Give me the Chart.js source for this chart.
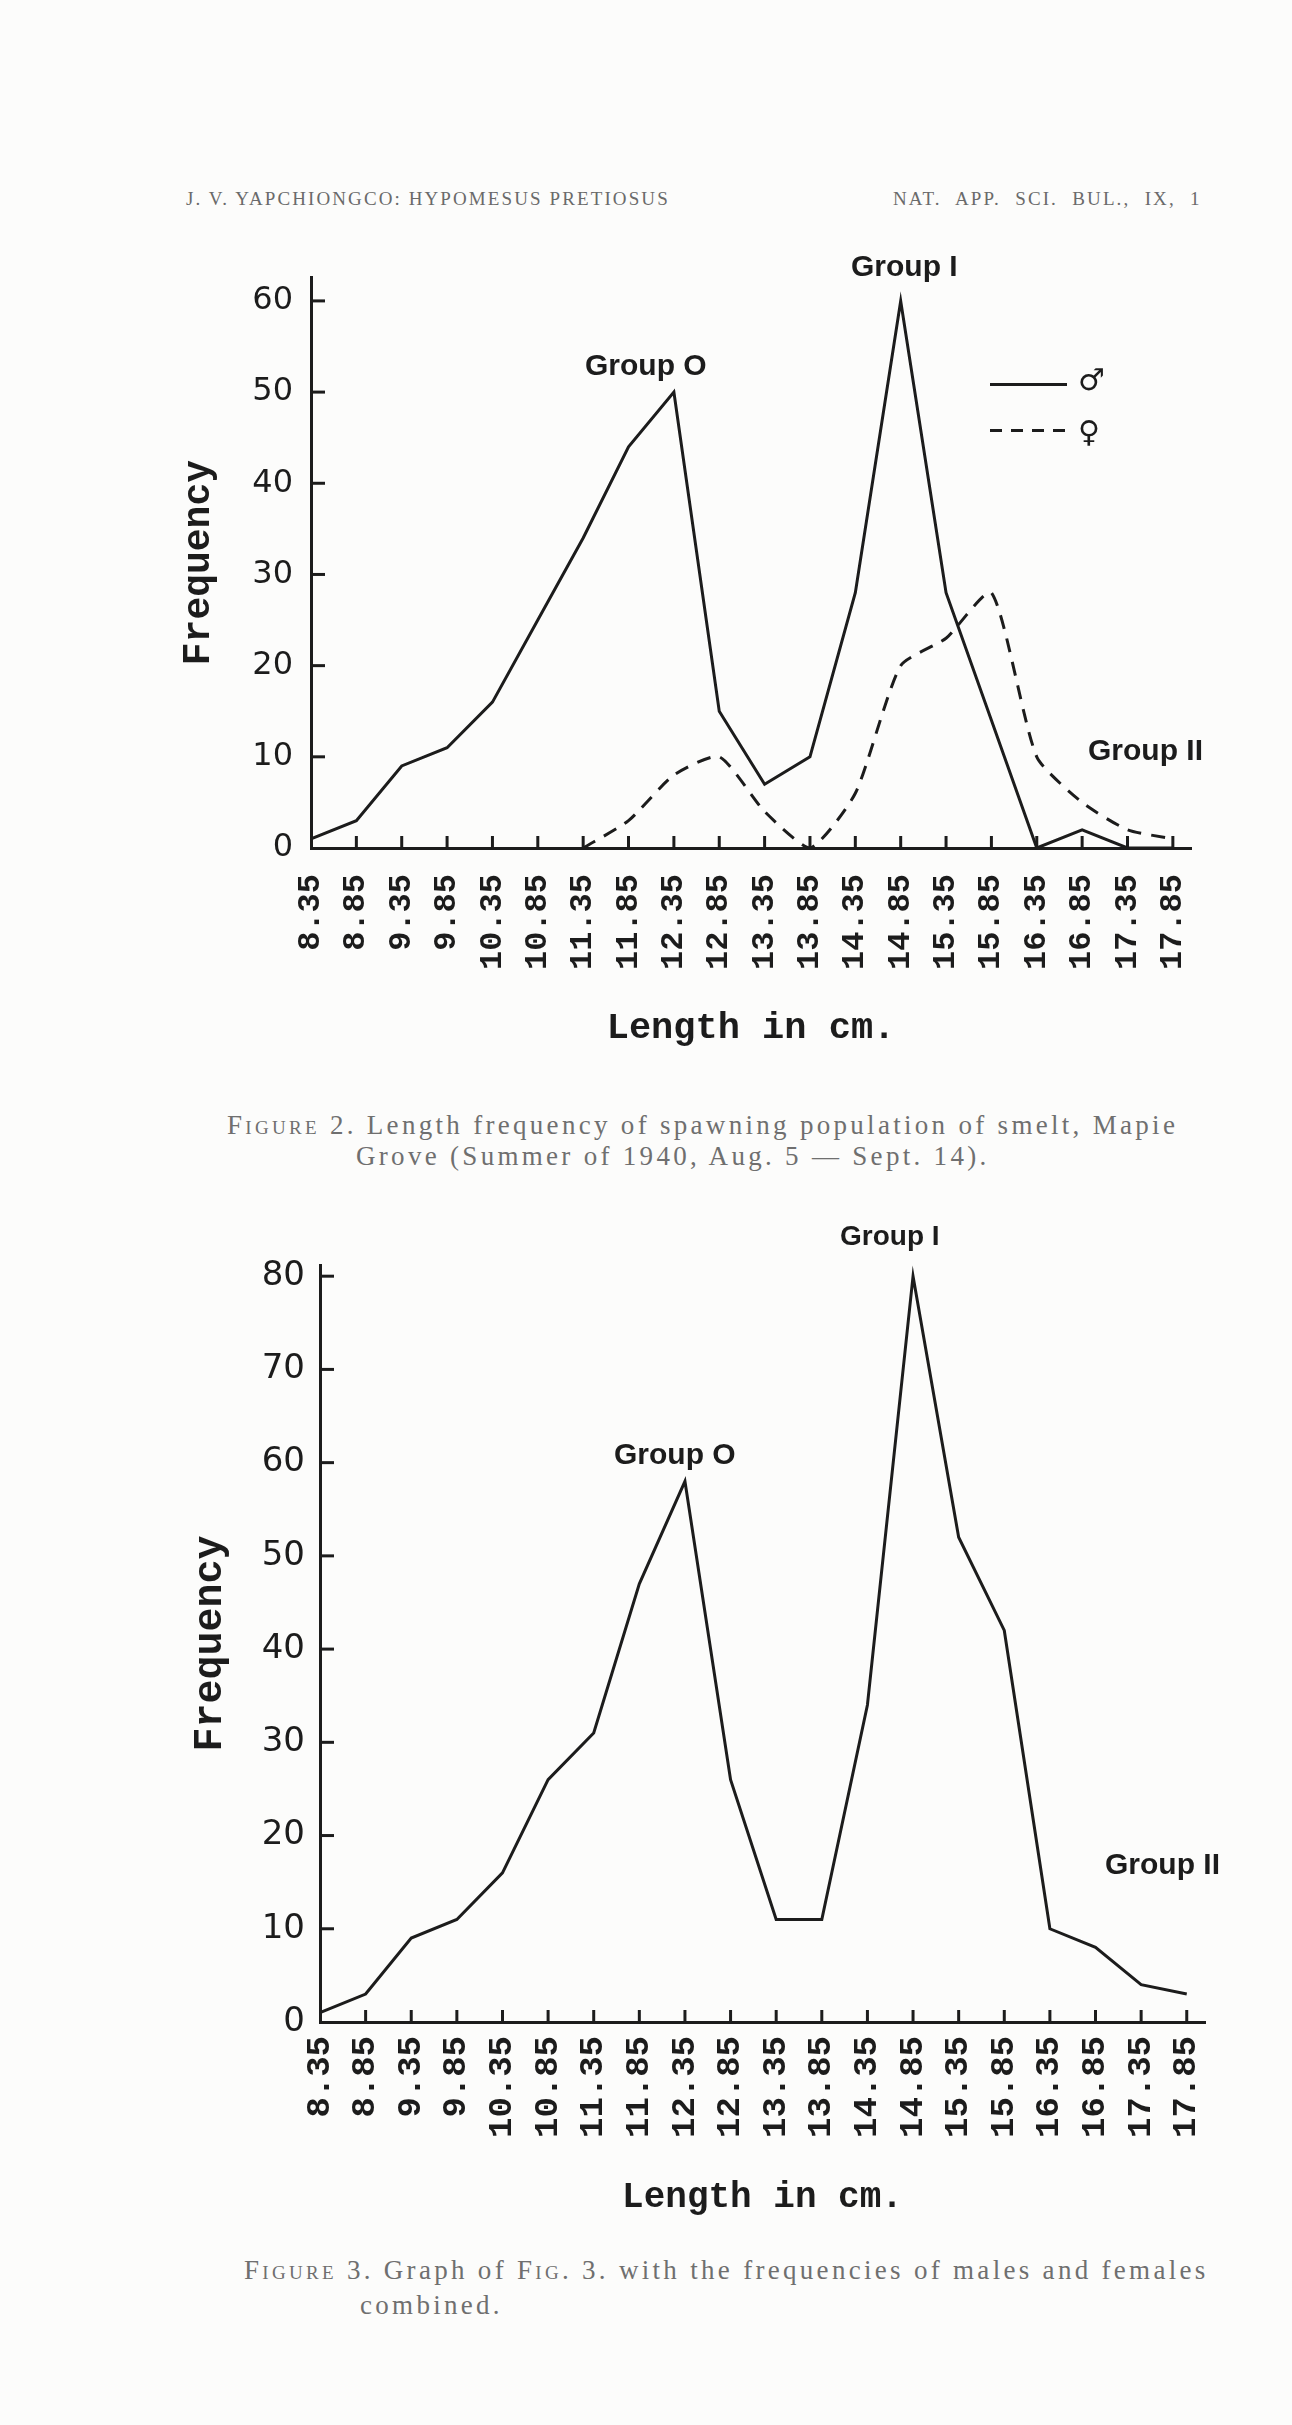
<!DOCTYPE html>
<html><head><meta charset="utf-8">
<script src="https://cdn.jsdelivr.net/npm/chart.js@4.4.1/dist/chart.umd.min.js"></script>
<style>
html,body{margin:0;padding:0;background:#fcfcfb;}
body{width:1292px;height:2425px;position:relative;overflow:hidden;}
canvas{position:absolute;left:0;}
.t{position:absolute;white-space:nowrap;transform:translateY(-50%);line-height:1;}
.hdr{font-family:"Liberation Serif",serif;font-size:19px;color:#6a6a6a;letter-spacing:2.1px;}
.cap{font-family:"Liberation Serif",serif;font-size:27px;color:#6f6f6f;letter-spacing:3.3px;}
.sc{font-variant:small-caps;}
.grp{font-family:"Liberation Sans",sans-serif;font-weight:bold;font-size:30px;color:#1c1c1c;}
.sym{font-family:"DejaVu Sans",sans-serif;font-size:30px;color:#1c1c1c;}
.lsolid{position:absolute;height:3px;background:#1c1c1c;}
.ldash{position:absolute;height:3px;background:repeating-linear-gradient(to right,#1c1c1c 0 12px,transparent 12px 21px);}
</style></head><body>

<div class="t hdr" style="left:186px;top:198px;">J. V. YAPCHIONGCO: HYPOMESUS PRETIOSUS</div>
<div class="t hdr" style="left:893px;top:198px;word-spacing:7.5px;">NAT. APP. SCI. BUL., IX, 1</div>

<canvas id="c1"></canvas>
<div class="t grp" style="left:585px;top:365px;">Group O</div>
<div class="t grp" style="left:851px;top:266px;">Group I</div>
<div class="t grp" style="left:1088px;top:750px;">Group II</div>
<div class="lsolid" style="left:990px;top:383px;width:77px;"></div>
<div class="t sym" style="left:1078px;top:380px;">♂</div>
<div class="ldash" style="left:990px;top:429px;width:77px;"></div>
<div class="t sym" style="left:1078px;top:432px;">♀</div>

<div class="t cap" style="left:227px;top:1125px;"><span class="sc">Figure</span> 2. Length frequency of spawning population of smelt, Mapie</div>
<div class="t cap" style="left:356px;top:1156px;">Grove (Summer of 1940, Aug. 5 — Sept. 14).</div>

<canvas id="c2"></canvas>
<div class="t grp" style="left:614px;top:1454px;">Group O</div>
<div class="t grp" style="left:840px;top:1236px;font-size:28px;">Group I</div>
<div class="t grp" style="left:1105px;top:1864px;">Group II</div>

<div class="t cap" style="left:244px;top:2270px;"><span class="sc">Figure</span> 3. Graph of <span class="sc">Fig</span>. 3. with the frequencies of males and females</div>
<div class="t cap" style="left:360px;top:2305px;">combined.</div>

<script>
// ---- data ----
const lengthLabels = ['8.35','8.85','9.35','9.85','10.35','10.85','11.35','11.85','12.35','12.85',
                      '13.35','13.85','14.35','14.85','15.35','15.85','16.35','16.85','17.35','17.85'];
const maleFreq   = [1,3,9,11,16,25,34,44,50,15,7,10,28,60,28,14,0,2,0,0];
const femaleFreq = [null,null,null,null,null,null,0,3,8,10,4,0,6,20,23,28,10,5,2,1];
const combinedFreq = [1,3,9,11,16,26,31,47,58,26,11,11,34,80,52,42,10,8,4,3];
const yTicksFig2 = [0,10,20,30,40,50,60];
const yTicksFig3 = [0,10,20,30,40,50,60,70,80];

const INK = '#1c1c1c';
const toPts = arr => arr.map((v, i) => ({x: i, y: v}));

const innerTicks = {
  id: 'innerTicks',
  afterDatasetsDraw(chart, args, opts) {
    const {ctx} = chart; const x = chart.scales.x, y = chart.scales.y;
    ctx.save(); ctx.strokeStyle = INK; ctx.lineWidth = 3;
    x.ticks.forEach(t => {
      if (t.value === 0) return;
      const px = x.getPixelForValue(t.value);
      ctx.beginPath(); ctx.moveTo(px, y.bottom); ctx.lineTo(px, y.bottom - opts.xLen); ctx.stroke();
    });
    y.ticks.forEach(t => {
      if (t.value === 0) return;
      const py = y.getPixelForValue(t.value);
      ctx.beginPath(); ctx.moveTo(x.left, py); ctx.lineTo(x.left + opts.yLen, py); ctx.stroke();
    });
    ctx.restore();
  }
};

function build(id, geo, datasets, yTickVals) {
  const cv = document.getElementById(id);
  cv.width = 1292; cv.height = geo.h; cv.style.top = geo.top + 'px';
  return new Chart(cv, {
    type: 'line',
    data: {datasets},
    options: {
      responsive: false, animation: false, devicePixelRatio: 1,
      layout: {padding: {left: geo.padL, right: geo.padR, top: geo.padT, bottom: geo.padB}},
      plugins: {legend: {display: false}, tooltip: {enabled: false}, innerTicks: {xLen: 12, yLen: 14}},
      elements: {point: {radius: 0}, line: {borderWidth: 3, borderColor: INK, tension: 0}},
      scales: {
        x: {
          type: 'linear', min: 0, max: geo.xMax,
          afterBuildTicks: s => { s.ticks = lengthLabels.map((_, i) => ({value: i})); },
          afterFit: s => { s.height = geo.xH; },
          ticks: {autoSkip: false, minRotation: 90, maxRotation: 90, padding: geo.xPad, color: INK,
                  font: {family: 'Liberation Mono', weight: 'bold', size: geo.xFont},
                  callback: v => lengthLabels[v] ?? ''},
          grid: {display: true, drawOnChartArea: false, drawTicks: false},
          border: {display: true, color: INK, width: 3},
          title: {display: true, text: 'Length in cm.', color: INK, padding: 0,
                  font: {family: 'Liberation Mono', weight: 'bold', size: geo.xtFont}}
        },
        y: {
          type: 'linear', min: 0, max: geo.yMax,
          afterBuildTicks: s => { s.ticks = yTickVals.map(v => ({value: v})); },
          afterFit: s => { s.width = geo.yW; },
          ticks: {padding: geo.yPad, color: INK, font: {family: 'DejaVu Sans', size: geo.yFont}},
          grid: {display: true, drawOnChartArea: false, drawTicks: false},
          border: {display: true, color: INK, width: 3},
          title: {display: true, text: 'Frequency', color: INK, padding: 0,
                  font: {family: 'Liberation Mono', weight: 'bold', size: geo.ytFont}}
        }
      }
    },
    plugins: [innerTicks]
  });
}

build('c1', {top: 240, h: 840, padL: 176.4, yW: 134.6, padR: 101, padT: 35, xH: 203.2, padB: 28.8,
             xMax: 19.4, yMax: 62.6, xPad: 26, yPad: 18, xFont: 32, yFont: 32, xtFont: 37, ytFont: 38},
  [
    {label: '♂', data: toPts(maleFreq), borderColor: INK, borderWidth: 3},
    {label: '♀', data: toPts(femaleFreq), borderColor: INK, borderWidth: 3, borderDash: [14, 10], tension: 0.2}
  ], yTicksFig2);

build('c2', {top: 1220, h: 1020, padL: 187.4, yW: 132.6, padR: 87, padT: 45, xH: 197.2, padB: 20.8,
             xMax: 19.4, yMax: 81.2, xPad: 14, yPad: 15, xFont: 34, yFont: 34, xtFont: 36, ytFont: 40},
  [
    {label: 'Combined', data: toPts(combinedFreq), borderColor: INK, borderWidth: 3}
  ], yTicksFig3);
</script>
</body></html>
